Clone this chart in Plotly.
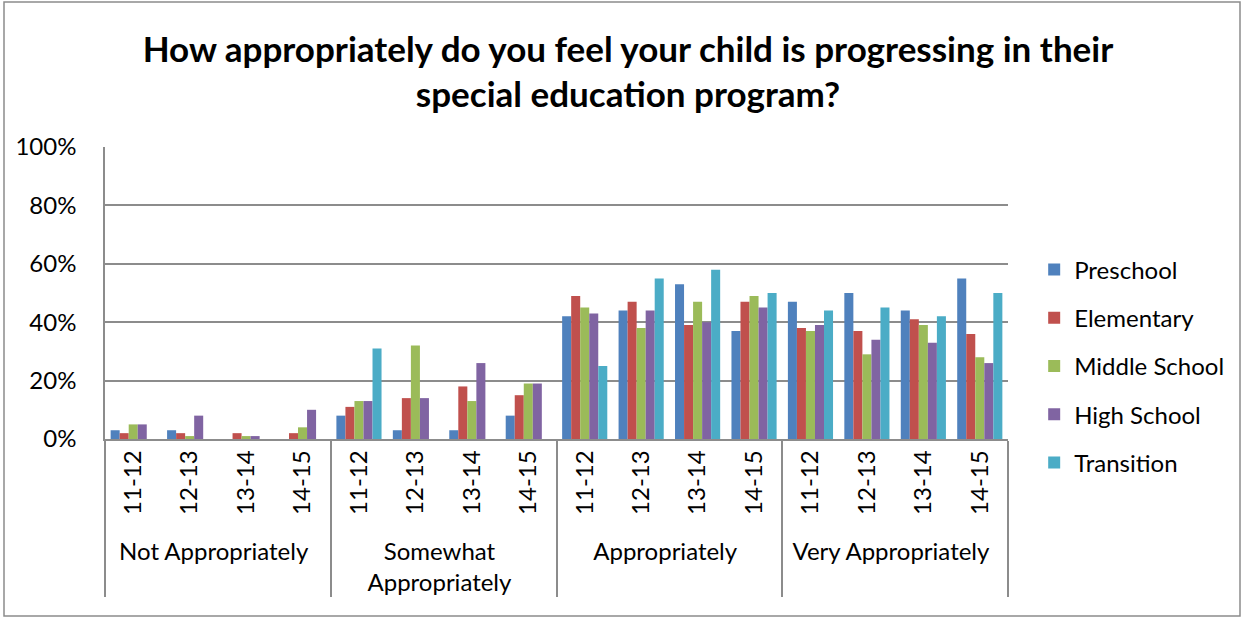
import plotly.graph_objects as go

groups = ["Not Appropriately", "Somewhat<br>Appropriately", "Appropriately", "Very Appropriately"]
years = ["11-12", "12-13", "13-14", "14-15"]
series_names = ["Preschool", "Elementary", "Middle School", "High School", "Transition"]
colors = ["#4F81BD", "#C0504D", "#9BBB59", "#8064A2", "#4BACC6"]

# values in %, ordered group by group, year by year
preschool = [3, 3, 0, 0, 8, 3, 3, 8, 42, 44, 53, 37, 47, 50, 44, 55]
elementary = [2, 2, 2, 2, 11, 14, 18, 15, 49, 47, 39, 47, 38, 37, 41, 36]
middle_school = [5, 1, 1, 4, 13, 32, 13, 19, 45, 38, 47, 49, 37, 29, 39, 28]
high_school = [5, 8, 1, 10, 13, 14, 26, 19, 43, 44, 40, 45, 39, 34, 33, 26]
transition = [0, 0, 0, 0, 31, 0, 0, 0, 25, 55, 58, 50, 44, 45, 42, 50]

series_values = [preschool, elementary, middle_school, high_school, transition]

outer = [g for g in groups for _ in years]
inner = [y for _ in groups for y in years]

FONT = "Lato, 'Open Sans', sans-serif"
GRID = "#8C8C8C"

fig = go.Figure()
for name, vals, col in zip(series_names, series_values, colors):
    fig.add_trace(go.Bar(
        x=[outer, inner], y=[v / 100 for v in vals], name=name,
        legendgroup=name,
        marker=dict(color=col, line=dict(width=0)),
    ))

fig.update_layout(
    width=1246, height=618,
    barmode="group", bargap=0.2, bargroupgap=0,
    paper_bgcolor="white", plot_bgcolor="white",
    margin=dict(l=105, r=238, t=147, b=179),
    font=dict(family=FONT, size=24, color="black"),
    title=dict(
        text="<b>How appropriately do you feel your child is progressing in their<br>special education program?</b>",
        x=0.504, xanchor="center", y=0.90, yanchor="top",
        font=dict(family=FONT, size=35, color="black"),
    ),
    legend=dict(
        x=1.029, xanchor="left", y=0.25, yanchor="middle",
        font=dict(family=FONT, size=24), tracegroupgap=14, itemsizing="constant",
        bgcolor="rgba(0,0,0,0)",
    ),
    showlegend=True,
)
fig.update_yaxes(
    range=[0, 1], tickvals=[0, 0.2, 0.4, 0.6, 0.8, 1.0], tickformat=".0%",
    showgrid=True, gridcolor=GRID, gridwidth=1.5,
    showline=True, linecolor=GRID, linewidth=1.5,
    ticks="", zeroline=False, ticklabelstandoff=22,
    tickfont=dict(size=24), automargin=False,
)
fig.update_xaxes(
    type="multicategory", tickangle=-90,
    showline=True, linecolor=GRID, linewidth=1.5,
    showdividers=True, dividercolor=GRID, dividerwidth=1.5,
    ticks="", tickfont=dict(size=24), automargin=False,
)
# outer chart border
fig.add_shape(type="rect", xref="paper", yref="paper",
              x0=(4 - 105) / 903, x1=(1240 - 105) / 903,
              y0=(439 - 616) / 292, y1=(439 - 2) / 292,
              line=dict(color=GRID, width=1.5), fillcolor="rgba(0,0,0,0)")

fig.write_html("out.html", config={"displayModeBar": False},
               post_script="document.body.style.margin='0px';")
